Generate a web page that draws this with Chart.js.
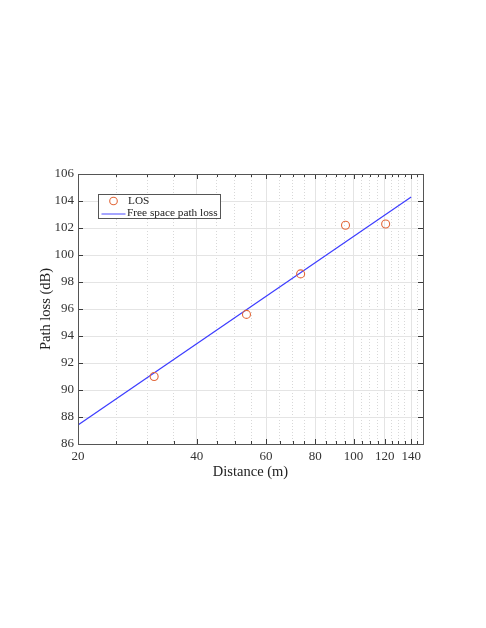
<!DOCTYPE html>
<html>
<head>
<meta charset="utf-8">
<script src="https://cdn.jsdelivr.net/npm/chart.js@4/dist/chart.umd.min.js"></script>
<style>
  html, body { margin: 0; padding: 0; background: #fff; }
  canvas { display: block; }
</style>
</head>
<body>
<canvas id="pathLoss" width="486" height="628"></canvas>
<script>
// measured LOS points (distance in m, path loss in dB)
const losDistance = [31.2, 53.5, 73.4, 95.4, 120.6];
const losLoss = [91.0, 95.6, 98.6, 102.2, 102.3];
// free space path loss line, straight on a log axis so two ends are enough
const fsplDistance = [20, 140];
const fsplLoss = [87.4, 104.3];
// axis ticks
const xTicks = [20, 25, 30, 35, 40, 45, 50, 55, 60, 65, 70, 75, 80, 85, 90, 95, 100,
                105, 110, 115, 120, 125, 130, 135, 140, 145, 150];
const xLabels = [20, 40, 60, 80, 100, 120, 140];
const yTicks = [86, 88, 90, 92, 94, 96, 98, 100, 102, 104, 106];

const serif = "'Liberation Serif', 'DejaVu Serif', serif";
const axisColor = '#3a3a3a';

// box round the plot, inward tick marks (matlab style) and the legend
const matlabFrame = {
  id: 'matlabFrame',
  afterDraw(chart) {
    const c = chart.ctx, a = chart.chartArea;
    const xs = chart.scales.x, ys = chart.scales.y;
    c.save();
    c.strokeStyle = axisColor;
    c.lineWidth = 1;
    c.beginPath();
    xs.ticks.forEach(t => {
      const px = Math.round(xs.getPixelForValue(t.value)) + 0.5;
      const len = xLabels.includes(t.value) ? 5 : 3;
      c.moveTo(px, a.bottom); c.lineTo(px, a.bottom - len);
      c.moveTo(px, a.top); c.lineTo(px, a.top + len);
    });
    ys.ticks.forEach(t => {
      const py = Math.round(ys.getPixelForValue(t.value)) + 0.5;
      c.moveTo(a.left, py); c.lineTo(a.left + 5, py);
      c.moveTo(a.right, py); c.lineTo(a.right - 5, py);
    });
    c.stroke();
    c.strokeStyle = '#555';
    c.strokeRect(Math.round(a.left) + 0.5, Math.round(a.top) + 0.5,
                 Math.round(a.right - a.left), Math.round(a.bottom - a.top));

    // legend box in the top left corner
    const ds = chart.data.datasets;
    const bx = a.left + 20.5, by = a.top + 20.5, bw = 122, bh = 24;
    c.fillStyle = '#fff';
    c.fillRect(bx, by, bw, bh);
    c.strokeStyle = '#555';
    c.strokeRect(bx, by, bw, bh);
    c.beginPath();
    c.strokeStyle = ds[0].borderColor;
    c.lineWidth = 1.1;
    c.arc(bx + 15, by + 6.5, 3.8, 0, Math.PI * 2);
    c.stroke();
    c.beginPath();
    c.strokeStyle = '#7f7fff';
    c.lineWidth = 1.4;
    c.moveTo(bx + 3, by + 19.5); c.lineTo(bx + 27, by + 19.5);
    c.stroke();
    c.fillStyle = '#222';
    c.font = '11.3px ' + serif;
    c.textBaseline = 'middle';
    c.fillText(ds[0].label, bx + 29.5, by + 7);
    c.fillText(ds[1].label, bx + 28.5, by + 19);
    c.restore();
  }
};

new Chart(document.getElementById('pathLoss'), {
  type: 'scatter',
  data: {
    datasets: [{
      label: 'LOS',
      data: losDistance.map((d, i) => ({ x: d, y: losLoss[i] })),
      borderColor: '#E2683A',
      backgroundColor: 'rgba(0,0,0,0)',
      borderWidth: 1.1,
      pointRadius: 4,
      showLine: false
    }, {
      label: 'Free space path loss',
      data: fsplDistance.map((d, i) => ({ x: d, y: fsplLoss[i] })),
      borderColor: '#3d3dff',
      borderWidth: 1.2,
      pointRadius: 0,
      showLine: true
    }]
  },
  options: {
    responsive: false,
    animation: false,
    devicePixelRatio: 1,
    layout: { padding: { left: 37, top: 174, right: 63, bottom: 147 } },
    plugins: { legend: { display: false }, tooltip: { enabled: false } },
    scales: {
      x: {
        type: 'logarithmic',
        min: 20,
        max: 150,
        afterBuildTicks: s => { s.ticks = xTicks.map(v => ({ value: v })); },
        afterFit: s => { s.height = 37; },
        ticks: {
          autoSkip: false,
          maxRotation: 0,
          padding: 5,
          color: '#333',
          font: { family: serif, size: 13 },
          callback: v => xLabels.includes(v) ? String(v) : ''
        },
        grid: {
          drawTicks: false,
          color: ctx => xLabels.includes(ctx.tick && ctx.tick.value) ? '#e4e4e4' : '#d8d8d8',
          lineWidth: 1
        },
        border: {
          color: axisColor,
          dash: ctx => (ctx.tick && !xLabels.includes(ctx.tick.value)) ? [1, 2] : []
        },
        title: {
          display: true,
          text: 'Distance (m)',
          color: '#222',
          padding: 0,
          font: { family: serif, size: 14.5 }
        }
      },
      y: {
        min: 86,
        max: 106,
        afterBuildTicks: s => { s.ticks = yTicks.map(v => ({ value: v })); },
        afterFit: s => { s.width = 41; },
        ticks: {
          padding: 4,
          color: '#333',
          font: { family: serif, size: 13 }
        },
        grid: { drawTicks: false, color: '#e4e4e4' },
        border: { color: axisColor },
        title: {
          display: true,
          text: 'Path loss (dB)',
          color: '#222',
          padding: 0,
          font: { family: serif, size: 14.5 }
        }
      }
    }
  },
  plugins: [matlabFrame]
});
</script>
</body>
</html>
